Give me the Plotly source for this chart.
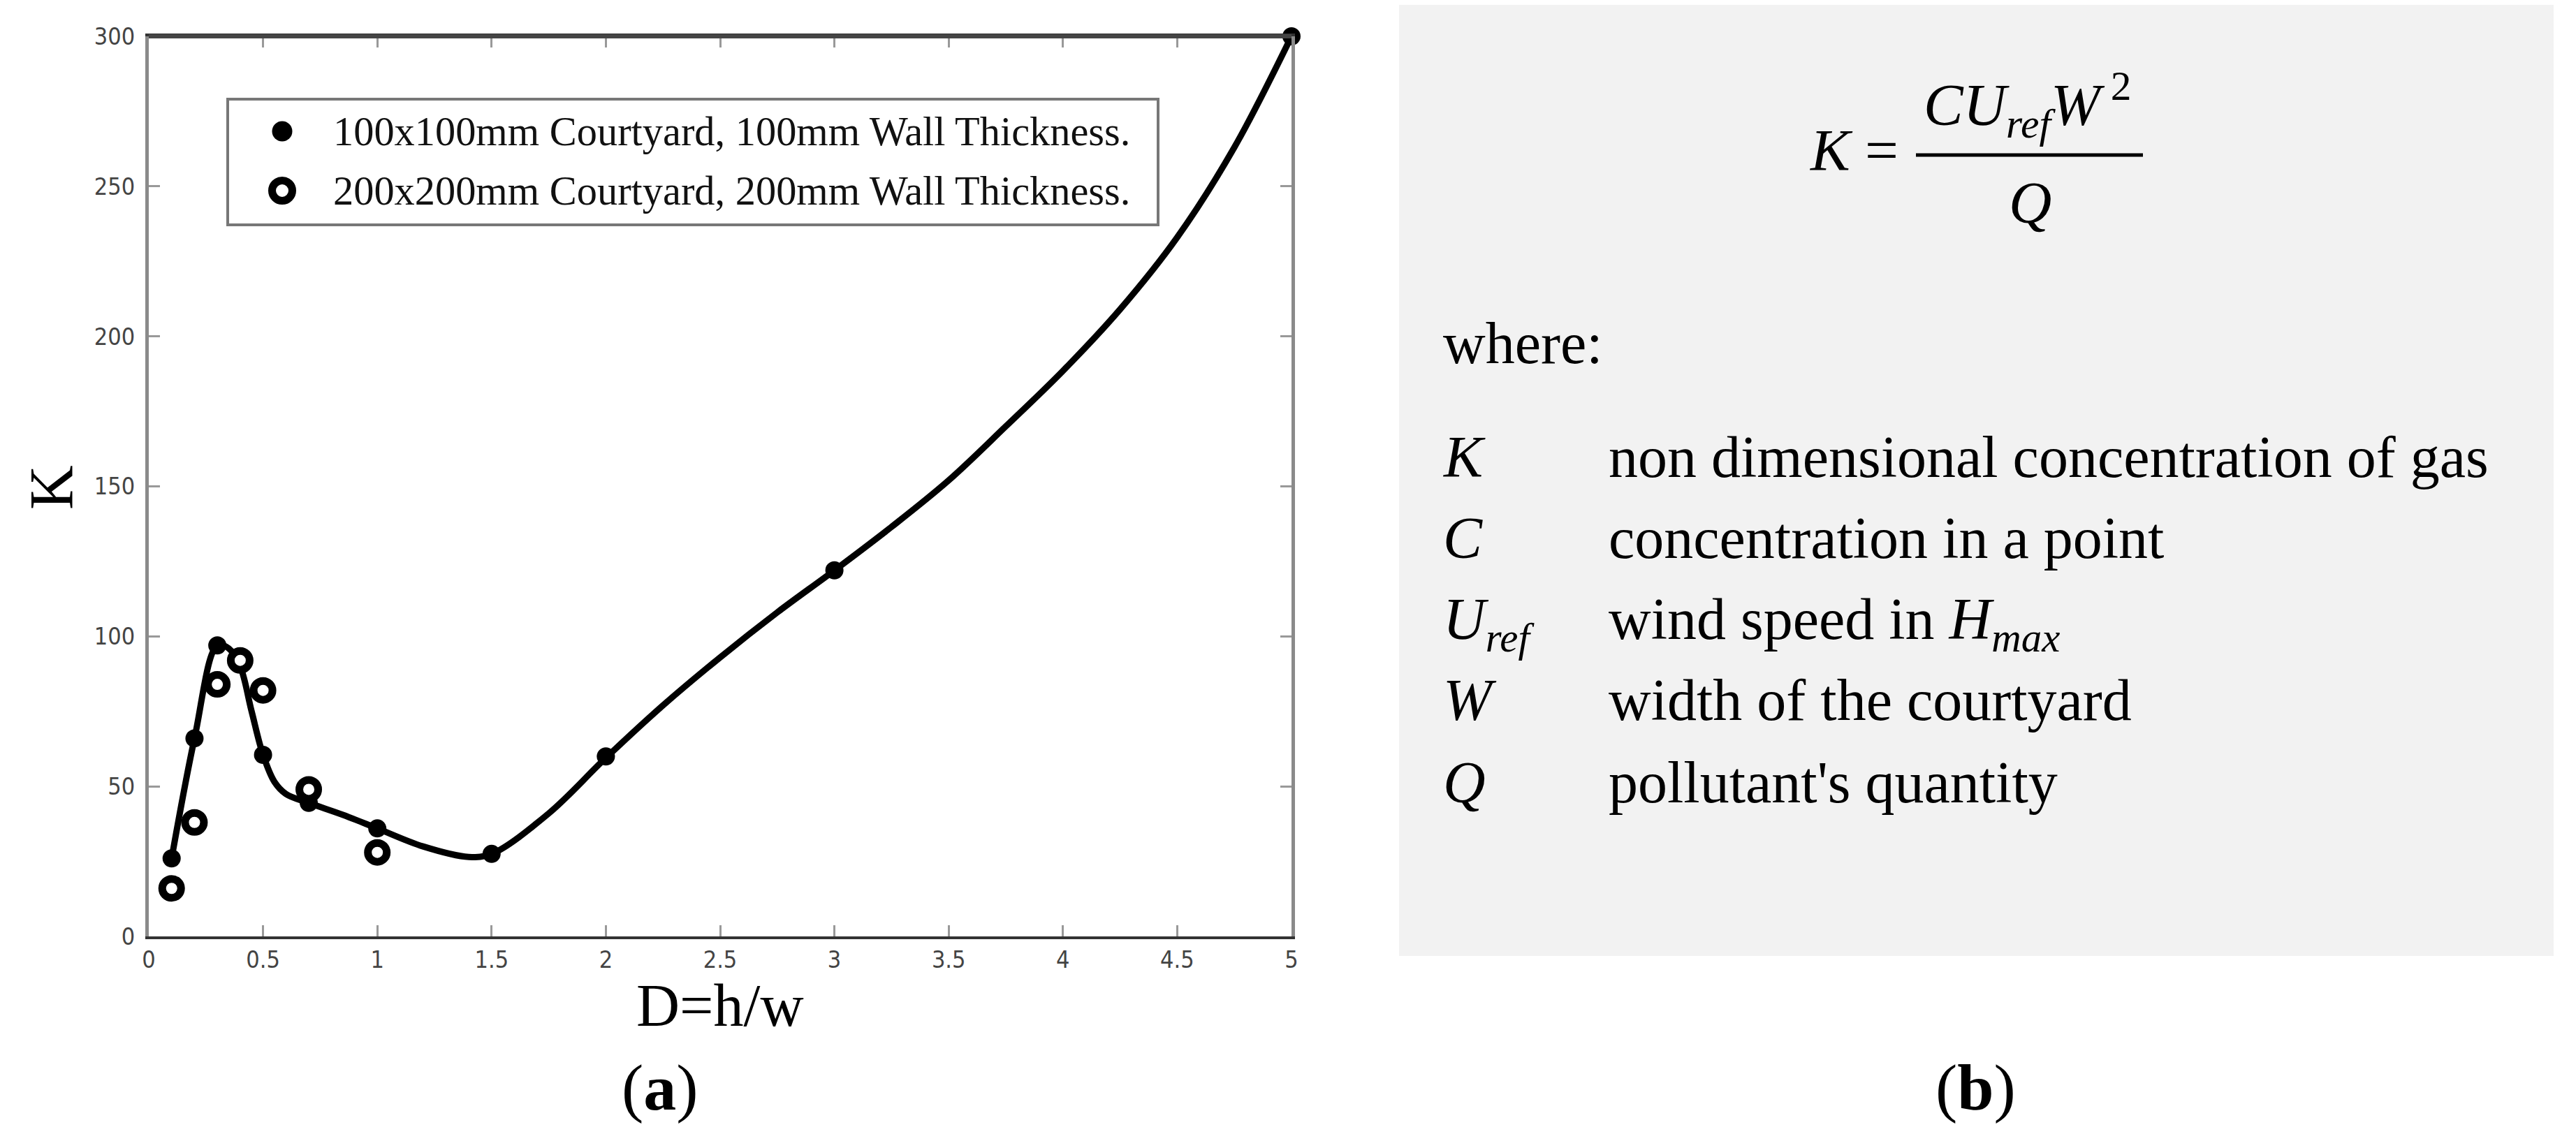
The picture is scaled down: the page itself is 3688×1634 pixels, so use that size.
import plotly.graph_objects as go

# Datos (a)
d_100 = [0.1, 0.2, 0.3, 0.5, 0.7, 1.0, 1.5, 2.0, 3.0, 5.0]
k_100 = [26, 66, 97, 60.5, 44.5, 36, 27.5, 60, 122, 300]

d_200 = [0.1, 0.2, 0.3, 0.4, 0.5, 0.7, 1.0]
k_200 = [16, 38, 84, 92, 82, 49, 28]

# Curva de ajuste (valores leídos a lo largo de la línea)
d_curva = [0.1, 0.2, 0.3, 0.35, 0.4, 0.45, 0.5, 0.55, 0.6, 0.7, 0.85, 1.0,
           1.2, 1.4, 1.5, 1.75, 2.0, 2.25, 2.5, 2.75, 3.0, 3.25, 3.5, 3.75,
           4.0, 4.25, 4.5, 4.75, 5.0]
k_curva = [26, 66, 97, 96, 90, 75, 60.5, 51.5, 47.5, 44.5, 40.5, 36,
           30, 26.5, 27.5, 41, 59.5, 77, 93, 108, 122, 136.5, 152, 170,
           188.5, 209, 233, 263, 300]

x_ticks = [0, 0.5, 1, 1.5, 2, 2.5, 3, 3.5, 4, 4.5, 5]
y_ticks = [0, 50, 100, 150, 200, 250, 300]

leyenda = [
    "100x100mm Courtyard, 100mm Wall Thickness.",
    "200x200mm Courtyard, 200mm Wall Thickness.",
]

simbolos = ["K", "C", "U<sub>ref</sub>", "W", "Q"]
definiciones = [
    "non dimensional concentration of gas",
    "concentration in a point",
    "wind speed in <i>H<sub>max</sub></i>",
    "width of the courtyard",
    "pollutant's quantity",
]

W, H = 3688, 1634
SERIF = "Liberation Serif, Times New Roman, serif"
NARROW = "Liberation Sans Narrow, Arial Narrow, DejaVu Sans Condensed, sans-serif"


def px(x):
    return x / W


def py(y):
    return 1 - y / H


fig = go.Figure()

fig.add_trace(
    go.Scatter(
        x=d_curva,
        y=k_curva,
        mode='lines',
        line=dict(color='black', width=9, shape='spline', smoothing=1.0),
        showlegend=False,
        cliponaxis=False
    )
)

fig.add_trace(
    go.Scatter(
        x=d_100,
        y=k_100,
        mode='markers',
        name=leyenda[0],
        marker=dict(symbol='circle', size=26, color='black'),
        showlegend=False,
        cliponaxis=False
    )
)

fig.add_trace(
    go.Scatter(
        x=d_200,
        y=k_200,
        mode='markers',
        name=leyenda[1],
        marker=dict(symbol='circle', size=27, color='white',
                    line=dict(color='black', width=11)),
        showlegend=False,
        cliponaxis=False
    )
)

fig.update_xaxes(
    domain=[px(213), px(1849)],
    range=[0, 5],
    tickvals=x_ticks,
    automargin=False,
    showgrid=False,
    zeroline=False,
    showline=True,
    linecolor='#333333',
    linewidth=4,
    mirror='ticks',
    ticks='inside',
    ticklen=16,
    tickwidth=3,
    tickcolor='#999999',
    ticklabelstandoff=0,
    tickfont=dict(family=NARROW, size=34, color='#444444')
)

fig.update_yaxes(
    domain=[py(1341), py(52)],
    range=[0, 300],
    tickvals=y_ticks,
    automargin=False,
    showgrid=False,
    zeroline=False,
    showline=True,
    linecolor='#8a8a8a',
    linewidth=5,
    mirror='ticks',
    ticks='inside',
    ticklen=16,
    tickwidth=3,
    tickcolor='#999999',
    ticklabelstandoff=8,
    tickfont=dict(family=NARROW, size=34, color='#444444')
)

shapes = [
    # panel (b)
    dict(type='rect', xref='paper', yref='paper', layer='below',
         x0=px(2003), x1=px(3656), y0=py(1369), y1=py(7),
         fillcolor='#f2f2f2', line=dict(width=0)),
    # borde superior más oscuro
    dict(type='line', xref='x domain', yref='y domain',
         x0=0, x1=1, y0=1, y1=1, line=dict(color='#444444', width=6)),
    # caja de la leyenda
    dict(type='rect', xref='paper', yref='paper',
         x0=px(326), x1=px(1658), y0=py(322), y1=py(142),
         fillcolor='white', line=dict(color='#777777', width=4)),
    dict(type='circle', xref='paper', yref='paper',
         xsizemode='pixel', ysizemode='pixel',
         xanchor=px(404), yanchor=py(188),
         x0=-14.5, x1=14.5, y0=-14.5, y1=14.5,
         fillcolor='black', line=dict(width=0)),
    dict(type='circle', xref='paper', yref='paper',
         xsizemode='pixel', ysizemode='pixel',
         xanchor=px(404), yanchor=py(273),
         x0=-14.5, x1=14.5, y0=-14.5, y1=14.5,
         fillcolor='white', line=dict(color='black', width=11)),
    # línea de la fracción
    dict(type='line', xref='paper', yref='paper',
         x0=px(2743), x1=px(3068), y0=py(222), y1=py(222),
         line=dict(color='black', width=5)),
]

anotaciones = [
    dict(text="K", x=px(73), y=py(698), textangle=-90,
         font=dict(family=SERIF, size=88, color='black')),
    dict(text="D=h/w", x=px(1031), y=py(1440),
         font=dict(family=SERIF, size=86, color='black')),
    dict(text="(<b>a</b>)", x=px(945), y=py(1557),
         font=dict(family=SERIF, size=94, color='black')),
    dict(text="(<b>b</b>)", x=px(2828), y=py(1557),
         font=dict(family=SERIF, size=94, color='black')),
    dict(text="<i>K</i> =", x=px(2589), y=py(215), xanchor='left',
         font=dict(family=SERIF, size=85, color='black')),
    dict(text="<i>CU<sub>ref</sub>W</i><sup> 2</sup>", x=px(2752), y=py(150),
         xanchor='left', font=dict(family=SERIF, size=85, color='black')),
    dict(text="<i>Q</i>", x=px(2906), y=py(290),
         font=dict(family=SERIF, size=85, color='black')),
    dict(text="where:", x=px(2064), y=py(491), xanchor='left',
         font=dict(family=SERIF, size=84, color='black')),
]

for i, texto in enumerate(leyenda):
    anotaciones.append(
        dict(text=texto, x=px(475), y=py(189 + 85 * i), xanchor='left',
             font=dict(family=SERIF, size=58.4, color='#111111'))
    )

filas_y = [654, 771, 887, 1002, 1120]
for simbolo, definicion, fy in zip(simbolos, definiciones, filas_y):
    ajuste = 6 if "<sub>" in simbolo else 0
    anotaciones.append(
        dict(text="<i>" + simbolo + "</i>", x=px(2064), y=py(fy + ajuste),
             xanchor='left', font=dict(family=SERIF, size=84, color='black'))
    )
    ajuste = 6 if "<sub>" in definicion else 0
    anotaciones.append(
        dict(text=definicion, x=px(2301), y=py(fy + ajuste),
             xanchor='left', font=dict(family=SERIF, size=84, color='black'))
    )

for a in anotaciones:
    a.update(xref='paper', yref='paper', showarrow=False)
    a.setdefault('xanchor', 'center')
    a.setdefault('yanchor', 'middle')

fig.update_layout(
    width=W,
    height=H,
    margin=dict(l=0, r=0, t=0, b=0, pad=0),
    paper_bgcolor='white',
    plot_bgcolor='white',
    showlegend=False,
    shapes=shapes,
    annotations=anotaciones
)

fig.write_html(
    "out.html",
    config={'displayModeBar': False},
    post_script="document.body.style.margin='0';"
)
